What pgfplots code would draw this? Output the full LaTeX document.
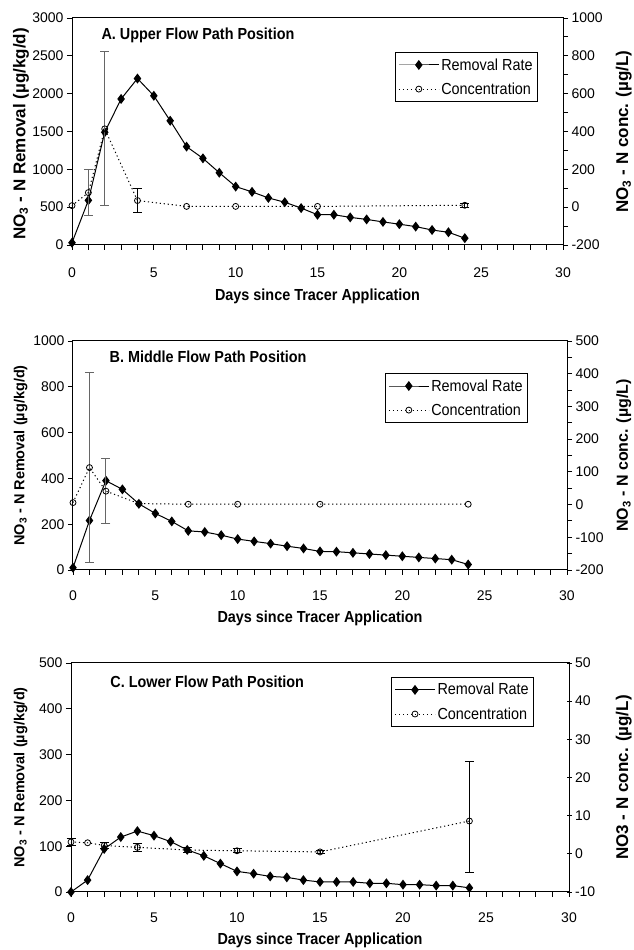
\documentclass[border=0pt]{standalone}
\usepackage{fontspec}
\setmainfont{Liberation Sans}
\newfontfamily\narrowfont[FakeStretch=0.9]{Liberation Sans}
\usepackage{pgfplots}
\pgfplotsset{compat=1.18}

\pgfplotsset{
  base/.style={
    scale only axis,
    xmin=0, xmax=30,
    tick align=outside,
    major tick length=5pt, minor tick length=5pt,
    every tick/.style={black, line width=0.9pt},
    axis line style={line width=1pt},
    tick label style={font=\fontsize{14}{16}\selectfont},
    /pgf/number format/assume math mode=true,
    /pgf/number format/1000 sep={},
    clip=false,
  },
  leftax/.style={base,
    xtick={0,5,...,30}, minor x tick num=4,
    xtick pos=bottom, ytick pos=left,
    xlabel={Days since Tracer Application},
    xlabel style={font=\narrowfont\bfseries\fontsize{16}{18}\selectfont, anchor=center},
    ylabel style={font=\bfseries\fontsize{16}{18}\selectfont, anchor=center, rotate=0},
  },
  rightax/.style={base,
    axis y line*=right, axis x line=none,
    ylabel style={font=\bfseries\fontsize{17}{19}\selectfont, anchor=center},
    legend style={draw=black, line width=0.8pt, fill=white,
      font=\narrowfont\fontsize{16}{18}\selectfont, anchor=north east,
      inner xsep=3pt, inner ysep=4pt, row sep=7pt, cells={anchor=west}},
    legend image code/.code={\draw[mark repeat=2,mark phase=2,##1] plot coordinates {(0pt,0pt) (20pt,0pt) (40pt,0pt)};},
  },
  removal/.style={black, solid, line width=1pt, mark=diamond*, mark size=4.2pt, mark options={solid, fill=black}},
  conc/.style={black, line width=1pt, dash pattern=on 1.2pt off 2.8pt, mark=o, mark size=3pt, mark options={solid, fill=white, line width=0.8pt}},
  ebar/.style={draw=none, mark=none, forget plot,
    error bars/.cd, y dir=both, y explicit, error mark=-,
    error bar style={draw=#1, solid, line width=0.9pt},
    error mark options={draw=#1, solid, line width=0.9pt, mark size=4.5pt, rotate=90}},
}

\begin{document}
\begin{tikzpicture}
\path[use as bounding box] (0,0) rectangle (634pt,950pt);

% ================= Panel A =================
\begin{axis}[leftax, at={(72pt,705pt)}, anchor=south west, width=491pt, height=227pt,
  ymin=0, ymax=3000, ytick={0,500,...,3000},
  xticklabel style={yshift=-14pt},
  xlabel style={at={(axis description cs:0.5,-0.225)}},
  ylabel={NO\textsubscript{3} - N Removal (µg/kg/d)},
  ylabel style={at={(axis description cs:-0.104,0.49)}, rotate=0, font=\bfseries\fontsize{17}{19}\selectfont}]
\addplot[removal] coordinates {(0,30)(1,590)(2,1490)(3,1930)(4,2200)(5,1972)(6,1642)(7,1300)(8,1145)(9,955)(10,772)(11,702)(12,622)(13,565)(14,488)(15,400)(16,400)(17,365)(18,338)(19,305)(20,275)(21,243)(22,198)(23,168)(24,90)};
\node[anchor=west, font=\narrowfont\bfseries\fontsize{16}{18}\selectfont] at (axis description cs:0.053,0.925) {A. Upper Flow Path Position};
\end{axis}
\begin{axis}[rightax, at={(72pt,705pt)}, anchor=south west, width=491pt, height=227pt,
  ymin=-200, ymax=1000, ytick={-200,0,...,1000}, minor y tick num=1,
  ylabel={NO\textsubscript{3} - N conc. (µg/L)},
  ylabel style={at={(axis description cs:1.124,0.5)}},
  legend style={at={(axis description cs:0.949,0.850)}}]
\addlegendimage{removal}
\addlegendentry{Removal Rate}
\addplot[ebar=gray!80!black] coordinates {(1,77) +- (0,120) (2,414) +- (0,407)};
\addplot[ebar=black] coordinates {(4,35) +- (0,63) (24,10) +- (0,12)};
\addplot[conc] coordinates {(0,8)(1,77)(2,414)(4,35)(7,4)(10,4)(15,4)(24,10)};
\addlegendentry{Concentration}
\end{axis}

% ================= Panel B =================
\begin{axis}[leftax, at={(73pt,380pt)}, anchor=south west, width=494pt, height=229pt,
  ymin=0, ymax=1000, ytick={0,200,...,1000},
  xticklabel style={yshift=-12pt},
  xlabel style={at={(axis description cs:0.5,-0.21)}},
  ylabel={NO\textsubscript{3} - N Removal (µg/kg/d)},
  ylabel style={at={(axis description cs:-0.106,0.5)}, font=\bfseries\fontsize{14.5}{17}\selectfont}]
\addplot[removal] coordinates {(0,10)(1,216)(2,390)(3,352)(4,289)(5,247)(6,212)(7,171)(8,166)(9,152)(10,135)(11,125)(12,115)(13,104)(14,94)(15,81)(16,80)(17,75)(18,70)(19,65)(20,60)(21,55)(22,50)(23,45)(24,24)};
\node[anchor=west, font=\narrowfont\bfseries\fontsize{16}{18}\selectfont] at (axis description cs:0.067,0.930) {B. Middle Flow Path Position};
\end{axis}
\begin{axis}[rightax, at={(73pt,380pt)}, anchor=south west, width=494pt, height=229pt,
  ymin=-200, ymax=500, ytick={-200,-100,...,500}, minor y tick num=1,
  ylabel={NO\textsubscript{3} - N conc. (µg/L)},
  ylabel style={at={(axis description cs:1.115,0.5)}, font=\bfseries\fontsize{16}{18}\selectfont},
  legend style={at={(axis description cs:0.921,0.860)}}]
\addlegendimage{removal}
\addlegendentry{Removal Rate}
\addplot[ebar=gray!80!black] coordinates {(1,113) +- (0,290) (2,41) +- (0,100)};
\addplot[conc] coordinates {(0,6)(1,113)(2,41)(4,3)(7,1)(10,1)(15,1)(24,1)};
\addlegendentry{Concentration}
\end{axis}

% ================= Panel C =================
\begin{axis}[leftax, at={(71pt,58pt)}, anchor=south west, width=498pt, height=229pt,
  ymin=0, ymax=500, ytick={0,100,...,500},
  xticklabel style={yshift=-12pt},
  xlabel style={at={(axis description cs:0.5,-0.21)}},
  ylabel={NO\textsubscript{3} - N Removal (µg/kg/d)},
  ylabel style={at={(axis description cs:-0.101,0.5)}, font=\bfseries\fontsize{14.5}{17}\selectfont}]
\addplot[removal] coordinates {(0,0)(1,26)(2,94)(3,120)(4,133)(5,123)(6,110)(7,92)(8,79)(9,62)(10,45)(11,40)(12,34)(13,32)(14,26)(15,22)(16,22)(17,22)(18,19)(19,19)(20,16)(21,16)(22,14)(23,14)(24,9)};
\node[anchor=west, font=\narrowfont\bfseries\fontsize{16}{18}\selectfont] at (axis description cs:0.072,0.917) {C. Lower Flow Path Position};
\end{axis}
\begin{axis}[rightax, at={(71pt,58pt)}, anchor=south west, width=498pt, height=229pt,
  ymin=-10, ymax=50, ytick={-10,0,...,50}, tick align=center,
  ylabel={NO3 - N conc. (µg/L)},
  ylabel style={at={(axis description cs:1.11,0.5)}},
  legend style={at={(axis description cs:0.930,0.939)}}]
\addlegendimage{removal}
\addlegendentry{Removal Rate}
\addplot[ebar=black] coordinates {(0,3.1) +- (0,0.9) (2,2.2) +- (0,0.8) (4,1.7) +- (0,1.0) (7,1.0) +- (0,0.6) (10,0.8) +- (0,0.5) (15,0.5) +- (0,0.5) (24,8.6) += (0,15.5) -= (0,13.4)};
\addplot[conc] coordinates {(0,3.1)(1,2.9)(2,2.2)(4,1.7)(7,1.0)(10,0.8)(15,0.5)(24,8.6)};
\addlegendentry{Concentration}
\end{axis}
\end{tikzpicture}
\end{document}
